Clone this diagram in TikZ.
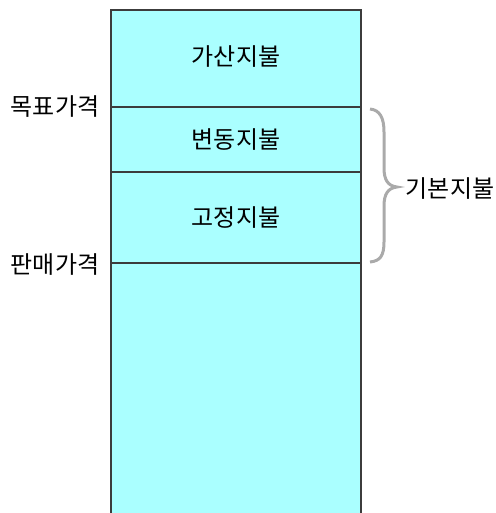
\documentclass[tikz,border=0pt]{standalone}
\usepackage{fontspec}
\newfontfamily\kr{Noto Sans CJK KR}
\definecolor{boxfill}{RGB}{170,255,255}
\definecolor{edge}{RGB}{60,60,60}
\definecolor{bracegray}{RGB}{170,170,170}
\begin{document}
\begin{tikzpicture}[x=1pt,y=-1pt,
  lbl/.style={font=\kr\fontsize{24}{24}\selectfont, text=black, inner sep=0pt},
  edgeline/.style={draw=edge, line width=1.6pt}]
\useasboundingbox (0,0) rectangle (495,513);
\fill[boxfill] (111,10) rectangle (361,513);
\draw[edgeline] (111,515) -- (111,10) -- (361,10) -- (361,515);
\coordinate (l1a) at (111,107); \coordinate (l1b) at (361,107);
\coordinate (l2a) at (111,172); \coordinate (l2b) at (361,172);
\coordinate (l3a) at (111,263); \coordinate (l3b) at (361,263);
\draw[edgeline] (l1a) -- (l1b);
\draw[edgeline] (l2a) -- (l2b);
\draw[edgeline] (l3a) -- (l3b);
\node[lbl] (s1) at (236,57) {가산지불};
\node[lbl] (s2) at (236,140) {변동지불};
\node[lbl] (s3) at (236,218) {고정지불};
\node[lbl] (p1) at (55,107) {목표가격};
\node[lbl] (p2) at (55,265) {판매가격};
\node[lbl] (b) at (450,189) {기본지불};
\draw[bracegray, line width=3pt]
  (370,109) .. controls (380,110) and (384,118) .. (384,132) -- (384,168)
  .. controls (384,180) and (388,186) .. (397,187)
  .. controls (388,188) and (384,194) .. (384,206) -- (384,242)
  .. controls (384,256) and (380,261) .. (370,262);
\end{tikzpicture}
\end{document}
